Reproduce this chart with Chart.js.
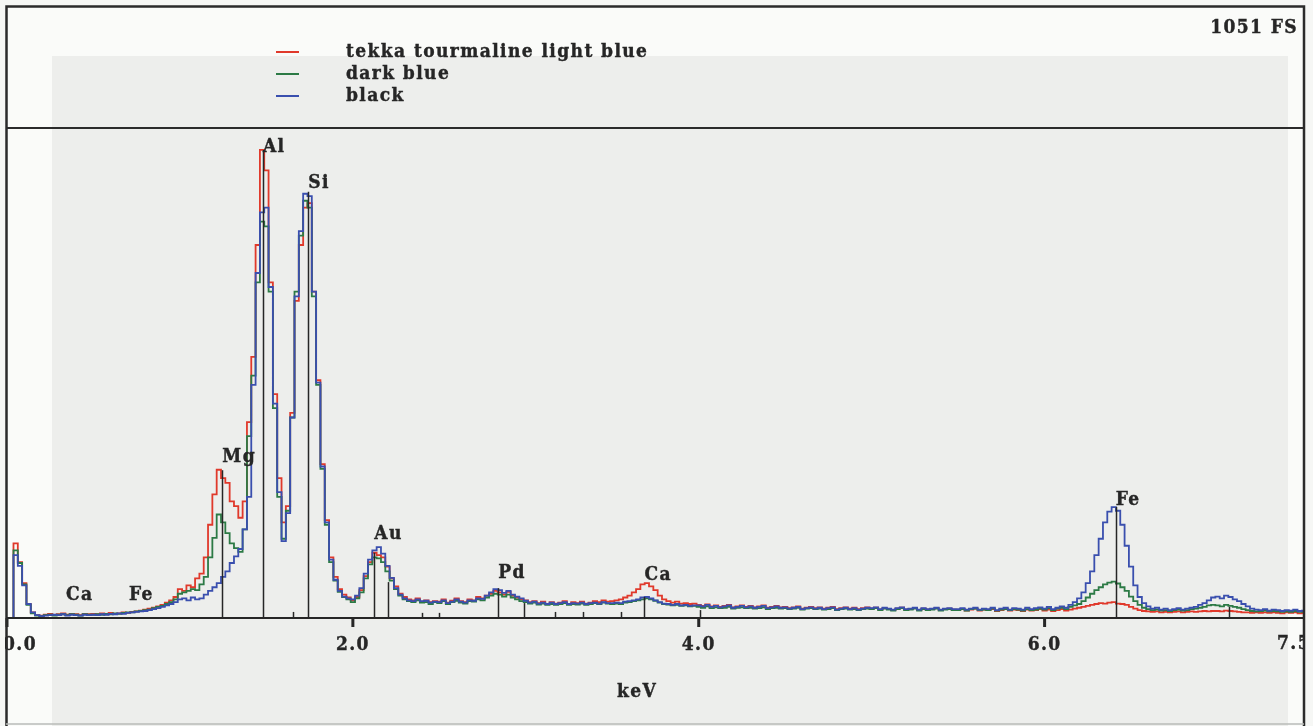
<!DOCTYPE html>
<html lang="en">
<head>
<meta charset="UTF-8">
<title>EDS spectrum - tekka tourmaline</title>
<script src="https://cdn.jsdelivr.net/npm/chart.js@4/dist/chart.umd.min.js"></script>
<style>
  html, body { margin: 0; padding: 0; background: #f6f7f5; }
  canvas { display: block; }
</style>
</head>
<body>
<canvas id="spectrum" width="1313" height="726"></canvas>
<script>
// spectrum channels: 0.025 keV wide, 0.0 .. 7.5 keV
const CH_KEV = 0.025;
const FULL_SCALE = 1051;

const seriesNames = ['tekka tourmaline light blue', 'dark blue', 'black'];
const seriesColors = ['#e0392b', '#2c7a45', '#3a4fae'];

const lightBlue = [
  0,0,160,120,75,30,12,6,5,7,9,6,8,10,7,9,8,6,9,8,
  9,8,10,8,11,9,10,12,11,13,14,16,18,20,22,25,28,33,38,45,
  62,58,70,66,85,95,130,200,265,318,300,290,250,240,215,250,420,560,800,1004,
  960,720,480,300,205,240,440,680,800,880,890,700,510,330,210,130,88,62,50,44,
  38,45,60,90,120,140,135,130,110,85,68,52,45,40,38,42,35,38,34,36,
  35,40,33,37,42,36,34,40,38,45,42,48,52,58,55,50,56,48,44,40,
  38,34,36,32,35,30,34,31,33,36,30,34,32,35,31,33,36,34,38,35,
  36,38,40,44,48,55,62,72,75,68,60,48,40,36,33,35,31,32,30,31,
  28,26,29,25,27,24,26,28,23,25,27,24,26,23,25,27,22,24,26,23,
  24,21,23,25,20,22,24,21,23,20,22,24,19,21,23,20,22,19,21,23,
  20,22,18,21,19,17,20,22,18,19,21,17,20,18,19,21,17,19,20,18,
  17,19,16,18,20,16,18,17,19,15,17,19,16,18,17,15,18,16,17,19,
  16,18,15,17,19,16,18,20,22,24,26,28,30,32,31,33,34,31,30,28,
  24,20,17,15,14,13,14,12,13,12,13,14,12,13,14,13,14,15,14,15,
  15,14,16,15,14,13,12,12,11,12,11,12,11,12,11,10,12,11,12,10,11
];

const darkBlue = [
  0,0,145,118,72,28,10,5,4,6,7,5,7,8,6,8,7,5,8,7,
  7,8,7,9,8,10,9,11,12,12,14,15,17,18,21,24,26,30,34,40,
  52,55,58,62,60,72,88,130,172,222,205,182,160,150,142,190,390,520,720,850,
  840,700,450,260,170,230,430,700,820,895,880,690,500,320,200,120,80,56,45,40,
  34,42,55,85,115,130,128,120,100,80,62,48,40,36,34,38,33,34,30,34,
  32,36,30,34,37,33,31,36,35,40,38,44,48,52,50,46,50,44,40,36,
  34,31,33,29,31,28,30,28,30,32,28,30,29,31,28,30,32,30,33,31,
  30,31,30,33,34,36,38,40,42,40,37,33,30,29,27,28,26,27,25,26,
  24,22,25,21,23,21,22,24,20,22,23,21,22,20,21,23,19,21,22,20,
  21,19,20,22,18,20,21,19,20,18,19,21,17,19,20,18,19,17,19,20,
  19,21,17,20,18,16,19,21,17,18,20,16,19,17,18,20,16,18,19,17,
  17,19,16,19,20,17,18,17,20,16,18,19,17,19,18,16,19,17,18,20,
  18,21,17,20,22,19,24,27,30,36,44,52,60,66,72,76,78,74,66,58,
  46,36,28,22,19,17,18,16,17,15,17,18,16,17,19,20,22,24,27,28,
  27,25,28,26,24,22,19,17,15,14,15,16,14,15,14,13,14,13,15,13,14
];

const black = [
  0,0,135,112,70,30,12,6,4,5,6,7,6,8,5,7,6,5,7,6,
  7,6,8,7,9,8,10,9,11,12,13,14,15,17,19,21,24,27,30,34,
  40,42,38,44,40,42,50,58,66,75,88,100,118,132,148,190,260,500,740,870,
  880,710,460,270,165,225,430,690,830,910,905,700,505,325,205,125,82,58,46,42,
  40,48,64,95,125,145,152,138,112,86,64,50,42,38,36,40,36,37,33,35,
  34,38,32,35,40,35,33,38,37,42,41,48,55,62,60,54,58,50,46,42,
  37,33,35,31,33,30,33,30,32,34,30,32,31,33,30,32,33,31,34,32,
  32,33,32,35,36,38,40,44,45,42,38,34,31,30,28,30,27,28,26,27,
  27,25,28,24,26,23,25,27,22,24,26,23,25,22,24,26,21,23,25,22,
  23,20,22,24,19,21,23,20,22,19,21,23,18,20,22,19,21,18,20,22,
  21,23,19,22,20,18,21,23,19,20,22,18,21,19,20,22,18,20,21,19,
  19,21,18,20,22,18,20,19,22,17,20,22,18,21,20,18,22,19,21,23,
  20,24,19,22,25,22,28,34,42,55,75,100,135,170,205,228,238,230,200,155,
  110,70,45,32,25,20,22,18,20,17,19,21,18,20,22,24,28,32,38,44,
  46,42,48,45,40,36,30,25,20,18,17,19,16,18,17,15,17,16,18,15,16
];

// KLM marker lines (keV, height in counts)
const markerKeV = [1.245, 1.48, 1.742, 2.124, 2.205, 2.841, 3.686, 6.412, 7.066, 1.655, 2.40, 2.50, 2.99, 3.17, 3.33, 3.553, 4.01];
const markerTop = [317, 1004, 914, 140, 77, 64, 45, 238, 24, 13, 11, 11, 32, 13, 13, 13, 17];

// element labels (left edge keV, centre height in counts)
const labelText = ['Ca', 'Fe', 'Mg', 'Al', 'Si', 'Au', 'Pd', 'Ca', 'Fe'];
const labelKeV = [0.341, 0.705, 1.245, 1.48, 1.742, 2.124, 2.841, 3.686, 6.412];
const labelCounts = [49, 49, 345, 1010, 933, 180, 97, 92, 253];

const tickValues = [0, 2, 4, 6, 7.5];
const tickLabels = ['0.0', '2.0', '4.0', '6.0', '7.5'];

const FONT = 'bold 19px "DejaVu Serif", "Liberation Serif", serif';
const INK = '#262626';

function toPoints(values) {
  return values.map((v, i) => ({ x: i * CH_KEV, y: v }));
}

function boldText(ctx, txt, x, y) {
  ctx.fillText(txt, x, y);
  ctx.strokeText(txt, x, y);
}

const spectrumDecor = {
  id: 'spectrumDecor',
  beforeDraw(chart) {
    const ctx = chart.ctx;
    ctx.save();
    ctx.fillStyle = '#f6f7f5';
    ctx.fillRect(0, 0, chart.width, chart.height);
    ctx.fillStyle = '#fafbf9';
    ctx.fillRect(6, 6, 1298, 720);
    ctx.fillStyle = '#edeeec';
    ctx.fillRect(52, 56, 1236, 670);
    ctx.restore();
  },
  afterDatasetsDraw(chart) {
    const ctx = chart.ctx;
    const xs = chart.scales.x, ys = chart.scales.y;
    const area = chart.chartArea;
    const y0 = ys.getPixelForValue(0);
    ctx.save();

    // marker lines
    ctx.strokeStyle = INK;
    ctx.lineWidth = 1.5;
    markerKeV.forEach((k, i) => {
      const px = Math.round(xs.getPixelForValue(k)) + 0.5;
      ctx.beginPath();
      ctx.moveTo(px, y0);
      ctx.lineTo(px, ys.getPixelForValue(markerTop[i]));
      ctx.stroke();
    });

    // axis line and major ticks
    ctx.lineWidth = 2;
    ctx.beginPath();
    ctx.moveTo(area.left, y0);
    ctx.lineTo(area.right, y0);
    ctx.stroke();
    ctx.lineWidth = 3;
    tickValues.slice(0, 4).forEach(v => {
      const px = xs.getPixelForValue(v);
      ctx.beginPath();
      ctx.moveTo(px, y0);
      ctx.lineTo(px, y0 + 9);
      ctx.stroke();
    });

    ctx.font = FONT;
    ctx.fontStretch = 'condensed';
    ctx.letterSpacing = '1.4px';
    ctx.fillStyle = INK;
    ctx.strokeStyle = INK;
    ctx.lineWidth = 0.4;
    ctx.textBaseline = 'middle';

    // tick labels
    tickValues.forEach((v, i) => {
      const px = xs.getPixelForValue(v);
      if (i === 0) { ctx.textAlign = 'left'; boldText(ctx, tickLabels[i], px - 4, 645); }
      else if (i === tickValues.length - 1) { ctx.textAlign = 'right'; boldText(ctx, tickLabels[i], px + 7, 644); }
      else { ctx.textAlign = 'center'; boldText(ctx, tickLabels[i], px, 645); }
    });

    // element labels
    ctx.textAlign = 'left';
    labelText.forEach((t, i) => {
      boldText(ctx, t, xs.getPixelForValue(labelKeV[i]), ys.getPixelForValue(labelCounts[i]));
    });

    // axis title, full scale
    ctx.textAlign = 'center';
    boldText(ctx, 'keV', 637, 692);
    ctx.textAlign = 'right';
    boldText(ctx, FULL_SCALE + ' FS', 1298, 28);

    // legend
    chart.data.datasets.forEach((ds, i) => {
      const ly = 52 + i * 22;
      ctx.strokeStyle = ds.borderColor;
      ctx.lineWidth = 2;
      ctx.beginPath();
      ctx.moveTo(276, ly);
      ctx.lineTo(299, ly);
      ctx.stroke();
      ctx.strokeStyle = INK;
      ctx.lineWidth = 0.4;
      ctx.textAlign = 'left';
      boldText(ctx, ds.label, 346, ly);
    });

    // cover cut-off label parts outside the frame
    ctx.fillStyle = '#f6f7f5';
    ctx.fillRect(0, 0, 5, chart.height);
    ctx.fillRect(1305, 0, chart.width - 1305, chart.height);

    // frame
    ctx.strokeStyle = '#2b2b2b';
    ctx.lineWidth = 2.5;
    ctx.beginPath();
    ctx.moveTo(6.5, 726);
    ctx.lineTo(6.5, 6.5);
    ctx.lineTo(1304, 6.5);
    ctx.lineTo(1304, 726);
    ctx.stroke();
    ctx.lineWidth = 2;
    ctx.beginPath();
    ctx.moveTo(6, area.top);
    ctx.lineTo(1304, area.top);
    ctx.stroke();
    ctx.strokeStyle = '#b9bbb8';
    ctx.lineWidth = 1.5;
    ctx.beginPath();
    ctx.moveTo(6, 724);
    ctx.lineTo(1304, 724);
    ctx.stroke();

    ctx.restore();
  }
};

new Chart(document.getElementById('spectrum'), {
  type: 'line',
  data: {
    datasets: [lightBlue, darkBlue, black].map((vals, i) => ({
      label: seriesNames[i],
      data: toPoints(vals),
      borderColor: seriesColors[i],
      borderWidth: 1.8,
      stepped: 'middle',
      pointRadius: 0,
      fill: false,
      order: 2 - i
    }))
  },
  options: {
    responsive: false,
    animation: false,
    events: [],
    layout: { padding: { left: 7, right: 9, top: 128, bottom: 108 } },
    scales: {
      x: { type: 'linear', min: 0, max: 7.5, display: false },
      y: { min: 0, max: FULL_SCALE, display: false }
    },
    plugins: { legend: { display: false }, tooltip: { enabled: false } }
  },
  plugins: [spectrumDecor]
});
</script>
</body>
</html>
